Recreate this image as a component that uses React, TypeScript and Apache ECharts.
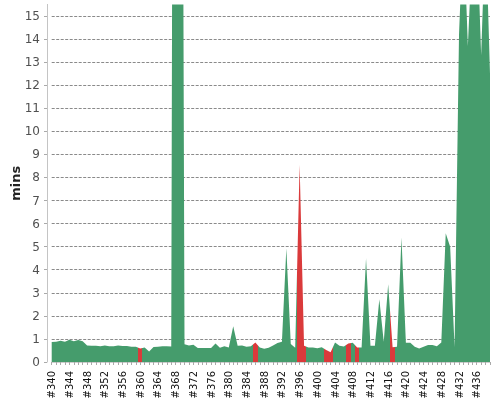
import React, { useEffect, useRef } from "react";
import * as echarts from "echarts";

// Build numbers start at #340 and run consecutively
const firstBuild = 340;
const lastBuild = 439;

// Build duration in minutes, one per build (#340 .. #439)
const durations = [
  0.87, 0.88, 0.92, 0.88, 0.96, 0.9, 0.95, 0.9, 0.72, 0.7,
  0.7, 0.68, 0.72, 0.68, 0.68, 0.72, 0.69, 0.69, 0.66, 0.66,
  0.58, 0.63, 0.45, 0.65, 0.66, 0.68, 0.68, 0.67, 80, 60,
  0.77, 0.72, 0.75, 0.61, 0.61, 0.61, 0.61, 0.8, 0.62, 0.68,
  0.63, 1.55, 0.7, 0.72, 0.66, 0.68, 0.85, 0.63, 0.57, 0.62,
  0.72, 0.82, 0.88, 4.93, 0.78, 0.62, 8.55, 0.7, 0.63, 0.63,
  0.6, 0.64, 0.52, 0.42, 0.85, 0.7, 0.67, 0.8, 0.83, 0.63,
  0.63, 4.5, 0.7, 0.7, 2.72, 0.88, 3.37, 0.64, 0.66, 5.4,
  0.83, 0.83, 0.66, 0.58, 0.66, 0.74, 0.74, 0.68, 0.85, 5.58,
  5.0, 0.65, 14.2, 19, 13.7, 18, 19, 13.3, 19, 12.5,
];

// Builds that failed (drawn red)
const failedBuilds = [360, 386, 396, 397, 402, 403, 407, 409, 417];

const yTicks = [0, 15.5];

const GREEN = "#459c6c";
const RED = "#da3a3b";
const FONT = "DejaVu Sans";

export default function App() {
  const ref = useRef<HTMLDivElement>(null);

  useEffect(() => {
    if (!ref.current) return;
    const chart = echarts.init(ref.current, null, { renderer: "svg" });
    const data = durations.map((v, i) => [firstBuild + i, v]);
    chart.setOption({
      animation: false,
      grid: { left: 51.7, right: 10, top: 4.4, bottom: 38, containLabel: false, outerBoundsMode: "none" },
      visualMap: {
        type: "piecewise",
        show: false,
        dimension: 0,
        seriesIndex: 0,
        pieces: failedBuilds.map((b) => ({ gte: b - 0.5, lt: b + 0.5, color: RED })),
        outOfRange: { color: GREEN },
      },
      xAxis: {
        type: "value",
        min: firstBuild,
        max: lastBuild,
        interval: 1,
        offset: 4,
        axisLine: { show: true, lineStyle: { color: "#cccccc", width: 1 } },
        axisTick: { show: true, length: 3, lineStyle: { color: "#aaaaaa" } },
        splitLine: { show: false },
        axisLabel: {
          rotate: 90,
          margin: 5,
          color: "#111",
          fontSize: 10,
          fontFamily: FONT,
          formatter: (v: number) => (v % 4 === 0 && v <= 436 ? "#" + v : ""),
        },
      },
      yAxis: {
        type: "value",
        min: yTicks[0],
        max: yTicks[1],
        interval: 1,
        offset: 4.7,
        name: "mins",
        nameLocation: "middle",
        nameGap: 25,
        nameMoveOverlap: false,
        nameTextStyle: { fontFamily: FONT, fontWeight: "bold", fontSize: 13, color: "#222" },
        axisLine: { show: true, lineStyle: { color: "#c4c4c4", width: 1 } },
        axisTick: { show: true, length: 3, lineStyle: { color: "#aaaaaa" } },
        axisLabel: {
          margin: 7,
          color: "#505050",
          fontSize: 12,
          fontFamily: FONT,
          showMaxLabel: false,
        },
        splitLine: {
          show: true,
          showMinLine: false,
          showMaxLine: false,
          lineStyle: { color: "#8a8a8a", type: [3, 1.5], width: 1 },
        },
      },
      series: [
        {
          type: "line",
          data,
          symbol: "none",
          lineStyle: { width: 0 },
          areaStyle: { opacity: 1 },
          clip: true,
        },
      ],
    });
    return () => chart.dispose();
  }, []);

  return (
    <div
      ref={ref}
      style={{ position: "fixed", left: 0, top: 0, width: 500, height: 400 }}
    />
  );
}
